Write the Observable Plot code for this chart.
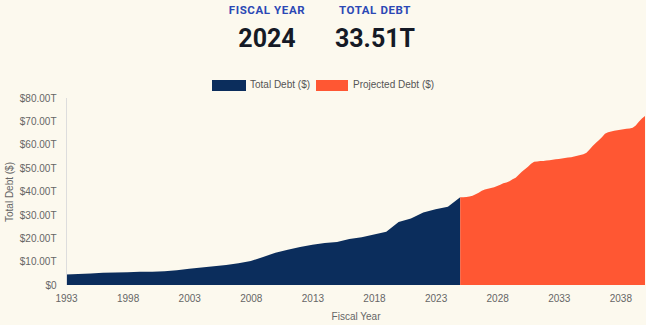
<!DOCTYPE html>
<html>
<head>
<meta charset="utf-8">
<script src="https://cdn.jsdelivr.net/npm/d3@7"></script>
<script src="https://cdn.jsdelivr.net/npm/@observablehq/plot@0.6"></script>
<style>
  html, body { margin: 0; padding: 0; background: #fcf9ee; }
  body { width: 646px; height: 325px; overflow: hidden; font-family: "Liberation Sans", Arial, sans-serif; }
  #header { position: relative; height: 72px; }
  .stat { position: absolute; top: 0; width: 140px; text-align: center; font-family: Roboto, "Liberation Sans", sans-serif; }
  .stat .k { margin-top: 3px; font-size: 11.5px; font-weight: 700; color: #2b48b5; letter-spacing: 0.6px; }
  .stat .v { margin-top: 7px; font-size: 25px; font-weight: 700; color: #151a26; }
  #legend { height: 20px; position: relative; font-size: 10px; color: #555; }
  .sw { position: absolute; top: 8px; height: 11px; }
  .lt { position: absolute; top: 7px; }
  #chart svg { display: block; }
</style>
</head>
<body>
<div id="header"></div>
<div id="legend"></div>
<div id="chart"></div>
<script>
// Header values
const headerLabels = ["FISCAL YEAR", "TOTAL DEBT"];
const headerValues = ["2024", "33.51T"];

// Legend
const seriesNames = ["Total Debt ($)", "Projected Debt ($)"];
const seriesColors = ["#0b2d5c", "#ff5733"];

// Historical total debt (trillions $)
const histYears = [1993,1994,1995,1996,1997,1998,1999,2000,2001,2002,2003,2004,2005,2006,2007,2008,2009,2010,2011,2012,2013,2014,2015,2016,2017,2018,2019,2020,2021,2022,2023,2024,2025];
const histDebt  = [4.5,4.7,4.95,5.2,5.4,5.5,5.65,5.7,5.85,6.3,6.9,7.5,8.0,8.6,9.3,10.3,12.0,13.8,15.1,16.3,17.2,18.0,18.4,19.7,20.4,21.6,22.8,27.0,28.5,31.0,32.4,33.5,37.5];

// Projected debt (trillions $), quarterly
const projYears = [2025,2025.25,2025.5,2025.75,2026,2026.25,2026.5,2026.75,2027,2027.25,2027.5,2027.75,2028,2028.25,2028.5,2028.75,2029,2029.25,2029.5,2029.75,2030,2030.25,2030.5,2030.75,2031,2031.25,2031.5,2031.75,2032,2032.25,2032.5,2032.75,2033,2033.25,2033.5,2033.75,2034,2034.25,2034.5,2034.75,2035,2035.25,2035.5,2035.75,2036,2036.25,2036.5,2036.75,2037,2037.25,2037.5,2037.75,2038,2038.25,2038.5,2038.75,2039,2039.25,2039.5,2039.75,2040];
const projDebt  = [37.5,37.5,37.7,37.9,38.2,38.8,39.5,40.3,40.9,41.2,41.5,41.8,42.3,42.9,43.5,43.9,44.4,45.2,45.9,47.2,48.4,49.5,50.6,51.9,52.7,52.8,53.0,53.1,53.3,53.4,53.6,53.8,53.9,54.1,54.3,54.5,54.7,55.0,55.3,55.6,55.9,56.6,58.0,59.5,60.7,61.9,63.2,64.7,65.3,65.7,66.0,66.2,66.4,66.6,66.8,67.0,67.3,68.2,69.8,71.2,72.3];

// Tick labels
const xTicks = [1993,1998,2003,2008,2013,2018,2023,2028,2033,2038];
const yTicks = [0,10,20,30,40,50,60,70,80];

// Header
const header = document.getElementById("header");
const centers = [267, 375];
headerLabels.forEach((k, i) => {
  const d = document.createElement("div");
  d.className = "stat";
  d.style.left = (centers[i] - 70) + "px";
  d.innerHTML = `<div class="k">${k}</div><div class="v">${headerValues[i]}</div>`;
  header.appendChild(d);
});

// Legend
const legend = document.getElementById("legend");
const swX = [212, 316], swW = [34, 32], ltX = [250, 353];
seriesNames.forEach((n, i) => {
  const s = document.createElement("div");
  s.className = "sw";
  s.style.left = swX[i] + "px";
  s.style.width = swW[i] + "px";
  s.style.background = seriesColors[i];
  legend.appendChild(s);
  const t = document.createElement("div");
  t.className = "lt";
  t.style.left = ltX[i] + "px";
  t.textContent = n;
  legend.appendChild(t);
});

const hist = histYears.map((x, i) => ({x, y: histDebt[i]}));
const proj = projYears.map((x, i) => ({x, y: projDebt[i]}));

const chart = Plot.plot({
  width: 646,
  height: 233,
  marginTop: 6,
  marginBottom: 40,
  marginLeft: 66,
  marginRight: 1,
  style: { background: "transparent", fontFamily: "Liberation Sans, Arial, sans-serif", fontSize: "10px", color: "#666" },
  x: { domain: [1993, 2040] },
  y: { domain: [0, 80] },
  marks: [
    Plot.areaY(hist, { x: "x", y: "y", fill: seriesColors[0] }),
    Plot.areaY(proj, { x: "x", y: "y", fill: seriesColors[1] }),
    Plot.ruleX([1993], { stroke: "#ddd" }),
    Plot.axisX({ ticks: xTicks, tickFormat: d => String(d), tickSize: 0, tickPadding: 9, label: "Fiscal Year", labelAnchor: "center", labelArrow: "none", labelOffset: 34, fill: "#666" }),
    Plot.axisY({ ticks: yTicks, tickFormat: d => d === 0 ? "$0" : `$${d.toFixed(2)}T`, tickSize: 0, tickPadding: 10, label: "Total Debt ($)", labelAnchor: "center", labelArrow: "none", labelOffset: 61, fill: "#666" })
  ]
});
document.getElementById("chart").appendChild(chart);
</script>
</body>
</html>
